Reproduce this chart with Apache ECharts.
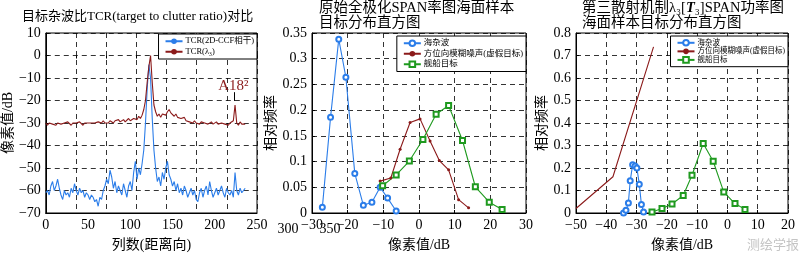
<!DOCTYPE html>
<html><head><meta charset="utf-8">
<script src="https://cdn.jsdelivr.net/npm/echarts@6/dist/echarts.min.js"></script>
<style>html,body{margin:0;padding:0;background:#fff}#c{width:800px;height:257px}</style>
</head><body><div id="c"></div>
<script>
const FONT = "'Liberation Serif','Noto Sans CJK SC',serif";
const BLUE = '#2b7de9', RED = '#8b1a1a', GREEN = '#1f9a1f';

// ---- Plot 1: TCR along range columns (one value every 2 columns, starting at column 0)
const tcrStep = 2;
const tcrBlue = [-61,-60,-62,-58,-56,-60,-58,-55,-59,-62,-64,-60,-62,-61,-63,-59,-61,-57,-60,-62,
  -59,-61,-60,-63,-61,-62,-64,-62,-63,-65,-64,-67,-63,-64,-60,-58,-55,-57,-51,-54,
  -59,-56,-61,-58,-60,-62,-57,-60,-63,-58,-56,-60,-52,-47,-55,-50,-53,-48,-42,-30,
  -15,-4,-10,-28,-42,-50,-56,-54,-58,-52,-55,-50,-47,-53,-55,-58,-56,-60,-57,-61,
  -59,-62,-58,-60,-63,-61,-59,-62,-60,-64,-65,-61,-59,-63,-60,-58,-62,-56,-60,-63,
  -61,-59,-62,-60,-58,-61,-63,-59,-61,-62,-60,-63,-52,-60,-62,-59,-61,-60,-59];
const tcrRed = [-30,-31,-30,-29.5,-30.5,-30,-31,-30,-29.5,-30.5,-31,-30,-30.5,-29.5,-30,-31,-30,-29.5,-30,-30.5,
  -29.5,-30,-31,-30,-29.5,-30,-30.5,-30,-29.5,-30,-30.5,-29.5,-30,-30,-29,-30,-29.5,-30,-29,-29.5,
  -30,-29,-29.5,-28.5,-29.5,-29,-28.5,-29.5,-29,-28,-29,-28.5,-28,-27.5,-28.5,-27,-28,-26.5,-24,-20,
  -12,-5,0,-12,-22,-25,-27,-26,-27.5,-26,-25.5,-26.5,-25,-24,-25.5,-26,-27,-26,-27.5,-27,
  -28,-28.5,-27.5,-29,-28.5,-29.5,-29,-30,-29,-30,-29.5,-30.5,-29.5,-30,-30,-29.5,-30.5,-30,-29.5,-30.5,
  -30,-29.5,-30.5,-30,-30,-29.5,-30.5,-30,-31,-30,-30.5,-29,-22,-30,-31,-29.5,-30.5,-30,-30.5];
const tcrNames = ['TCR(2D-CCF相干)', 'TCR(λ₃)'];
const annotCol = 223, annotText = 'A18²';

// ---- Plot 2: original full-pol SPAN histogram
const p2SeaX  = [-27.1,-24.8,-22.5,-20.5,-18.0,-15.6,-13.2,-10.9,-8.8,-6.4];
const p2SeaY  = [0.011,0.186,0.338,0.264,0.077,0.015,0.021,0.050,0.029,0.004];
const p2AmbX  = [-10.9,-7.9,-5.3,-2.5,0.3,3.1,5.7,8.3,11.1,13.9];
const p2AmbY  = [0.062,0.068,0.124,0.176,0.183,0.140,0.102,0.084,0.026,0.010];
const p2ShipX = [-10.2,-6.4,-2.7,1.1,4.8,8.3,12.2,15.8,19.7,23.3];
const p2ShipY = [0.053,0.074,0.101,0.143,0.192,0.209,0.141,0.051,0.021,0.007];

// ---- Plot 3: lambda3 [T3] SPAN histogram
const p3SeaX  = [-34.3,-33.5,-32.7,-32.1,-31.3,-30.5,-29.9,-29.1,-28.4,-27.7];
const p3SeaY  = [0.0,0.012,0.045,0.143,0.214,0.209,0.200,0.128,0.038,0.004];
const p3AmbX  = [-50,-37.8,-24.4];
const p3AmbY  = [0.02,0.161,0.738];
const p3ShipX = [-24.9,-21.6,-18.3,-14.6,-11.7,-8.0,-4.7,-1.2,2.5,5.8];
const p3ShipY = [0.004,0.020,0.040,0.078,0.168,0.309,0.230,0.093,0.042,0.016];
const histNames = ['海杂波', '方位向模糊噪声(虚假目标)', '舰船目标'];

const pairs = (xs, ys) => xs.map((x, i) => [x, ys[i]]);
const colPairs = ys => ys.map((y, i) => [i * tcrStep, y]);
const fmt = v => String(Math.round(v * 1000) / 1000).replace('-', '−');

const gridLine = { show: true, lineStyle: { color: '#000', type: [5, 4], width: 0.8 } };
function axisBase(extra) {
  return Object.assign({
    type: 'value',
    axisLine: { show: true, onZero: false, lineStyle: { color: '#000', width: 1 } },
    axisTick: { show: true, inside: true, length: 3, lineStyle: { color: '#000' } },
    axisLabel: { color: '#000', fontSize: 14, fontFamily: FONT, margin: 5, formatter: fmt,
      hideOverlap: false, showMinLabel: true, showMaxLabel: true },
    splitLine: gridLine,
    nameTextStyle: { color: '#000', fontSize: 14, fontFamily: FONT },
    nameLocation: 'middle'
  }, extra);
}
const legendBase = {
  orient: 'vertical', backgroundColor: '#fff', borderColor: '#000', borderWidth: 1,
  itemGap: 2, itemWidth: 17, itemHeight: 7, padding: [3, 3, 3, 6],
  textStyle: { color: '#000', fontSize: 8.5, fontFamily: FONT, padding: [0, 0, 0, -2] }
};

const chart = echarts.init(document.getElementById('c'), null, { renderer: 'canvas' });
chart.setOption({
  animation: false,
  backgroundColor: '#fff',
  title: [
    { text: '目标杂波比TCR(target to clutter ratio)对比', left: 22, top: 10, padding: 0,
      textStyle: { fontSize: 13, fontWeight: 'normal', color: '#000', fontFamily: FONT } },
    { text: '原始全极化SPAN率图海面样本\n目标分布直方图', left: 319, top: 1, padding: 0,
      textStyle: { fontSize: 14.5, lineHeight: 15, fontWeight: 'normal', color: '#000', fontFamily: FONT } },
    { text: '第三散射机制λ₃[{b|T}₃]SPAN功率图\n海面样本目标分布直方图', left: 582, top: 1, padding: 0,
      textStyle: { fontSize: 14.5, lineHeight: 15, fontWeight: 'normal', color: '#000', fontFamily: FONT,
        rich: { b: { fontSize: 14.5, fontWeight: 'bold', fontStyle: 'italic', fontFamily: FONT, lineHeight: 15 } } } }
  ],
  grid: [
    { left: 41, top: 33, width: 216, height: 184, show: true, borderColor: '#000', borderWidth: 1 },
    { left: 312, top: 33, width: 214, height: 184, show: true, borderColor: '#000', borderWidth: 1 },
    { left: 576, top: 33, width: 212, height: 184, show: true, borderColor: '#000', borderWidth: 1 }
  ],
  xAxis: [
    axisBase({ gridIndex: 0, min: 0, max: 250, interval: 50, splitLine: { show: false }, axisTick: { show: false },
      name: '列数(距离向)', nameGap: 25 }),
    axisBase({ gridIndex: 0, min: 0, max: 250, interval: 250 / 7, position: 'top',
      axisLabel: { show: false }, axisLine: { show: false } }),
    axisBase({ gridIndex: 1, min: -30, max: 30, interval: 10, name: '像素值/dB', nameGap: 25 }),
    axisBase({ gridIndex: 2, min: -50, max: 20, interval: 10, name: '像素值/dB', nameGap: 25 })
  ],
  yAxis: [
    axisBase({ gridIndex: 0, min: -70, max: 10, interval: 10, name: '像素值/dB', nameGap: 23 }),
    axisBase({ gridIndex: 1, min: 0, max: 0.35, interval: 0.05, name: '相对频率', nameGap: 25 }),
    axisBase({ gridIndex: 2, min: 0, max: 0.8, interval: 0.1, name: '相对频率', nameGap: 25 })
  ],
  legend: [
    Object.assign({}, legendBase, { data: tcrNames, right: 543, top: 34 }),
    Object.assign({}, legendBase, { data: histNames, right: 274, top: 36 }),
    Object.assign({}, legendBase, { data: histNames, right: 12, top: 36, itemGap: 1,
      textStyle: Object.assign({}, legendBase.textStyle, { fontSize: 7.5 }) })
  ],
  series: [
    { name: tcrNames[0], type: 'line', xAxisIndex: 0, yAxisIndex: 0, data: colPairs(tcrBlue),
      showSymbol: false, symbol: 'none', color: BLUE, lineStyle: { width: 1.1 } },
    { name: tcrNames[1], type: 'line', xAxisIndex: 0, yAxisIndex: 0, data: colPairs(tcrRed),
      showSymbol: false, symbol: 'none', color: RED, lineStyle: { width: 1.1 },
      markLine: { silent: true, symbol: ['none', 'arrow'], symbolSize: [0, 5], label: { show: false },
        lineStyle: { color: '#000', width: 1, type: 'solid' },
        data: [[{ coord: [annotCol, -16.3] }, { coord: [annotCol, -20.2] }]] },
      markPoint: { silent: true, symbol: 'circle', symbolSize: 0,
        data: [{ coord: [annotCol - 1, -13.6] }],
        label: { show: true, position: 'inside', formatter: annotText, color: RED, fontSize: 15, fontFamily: FONT } } },

    { name: histNames[0], type: 'line', xAxisIndex: 2, yAxisIndex: 1, data: pairs(p2SeaX, p2SeaY),
      symbol: 'emptyCircle', symbolSize: 5, color: BLUE, lineStyle: { width: 1.1 } },
    { name: histNames[1], type: 'line', xAxisIndex: 2, yAxisIndex: 1, data: pairs(p2AmbX, p2AmbY),
      symbol: 'circle', symbolSize: 3, color: RED, lineStyle: { width: 1.1 } },
    { name: histNames[2], type: 'line', xAxisIndex: 2, yAxisIndex: 1, data: pairs(p2ShipX, p2ShipY),
      symbol: 'emptyRect', symbolSize: 5, color: GREEN, lineStyle: { width: 1.1 } },

    { name: histNames[0], type: 'line', xAxisIndex: 3, yAxisIndex: 2, data: pairs(p3SeaX, p3SeaY),
      symbol: 'emptyCircle', symbolSize: 5, color: BLUE, lineStyle: { width: 1.1 } },
    { name: histNames[1], type: 'line', xAxisIndex: 3, yAxisIndex: 2, data: pairs(p3AmbX, p3AmbY),
      symbol: 'none', color: RED, lineStyle: { width: 1.1 } },
    { name: histNames[2], type: 'line', xAxisIndex: 3, yAxisIndex: 2, data: pairs(p3ShipX, p3ShipY),
      symbol: 'emptyRect', symbolSize: 5, color: GREEN, lineStyle: { width: 1.1 } }
  ],
  graphic: [
    { type: 'text', x: 288, y: 229, style: { text: '300', fill: '#000', fontSize: 14, fontFamily: FONT, align: 'center', verticalAlign: 'middle' } },
    { type: 'text', x: 330, y: 229, style: { text: '350', fill: '#000', fontSize: 14, fontFamily: FONT, align: 'center', verticalAlign: 'middle' } },
    { type: 'text', x: 773, y: 244, style: { text: '测绘学报', fill: '#c4c4c4', fontSize: 13, fontFamily: "'Noto Sans CJK SC',sans-serif", align: 'center', verticalAlign: 'middle' } }
  ]
});
</script></body></html>
